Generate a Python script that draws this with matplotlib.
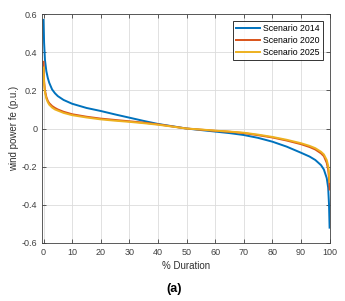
import matplotlib
matplotlib.use("Agg")
from matplotlib import pyplot as plt

# % duration sample points
duration = [0, 0.2, 0.5, 1, 1.5, 2, 3, 4, 5, 7, 10, 15, 20, 25, 30, 35, 40, 45, 50,
            55, 60, 65, 70, 75, 80, 85, 90, 93, 95, 97, 98, 99, 99.5, 99.8, 100]

fe_2014 = [0.57, 0.45, 0.36, 0.30, 0.265, 0.24, 0.205, 0.185, 0.17, 0.15, 0.13, 0.108,
           0.092, 0.074, 0.057, 0.04, 0.024, 0.012, 0.0, -0.008, -0.016, -0.024, -0.034,
           -0.049, -0.069, -0.095, -0.127, -0.147, -0.165, -0.192, -0.215, -0.26, -0.31,
           -0.40, -0.52]
fe_2020 = [0.35, 0.25, 0.2, 0.165, 0.145, 0.133, 0.118, 0.108, 0.1, 0.088, 0.075, 0.062,
           0.052, 0.045, 0.038, 0.031, 0.022, 0.011, 0.0, -0.006, -0.012, -0.017, -0.024,
           -0.035, -0.047, -0.063, -0.082, -0.097, -0.11, -0.13, -0.145, -0.18, -0.215,
           -0.26, -0.32]
fe_2025 = [0.32, 0.235, 0.19, 0.157, 0.138, 0.125, 0.11, 0.1, 0.094, 0.082, 0.07, 0.058,
           0.048, 0.041, 0.035, 0.028, 0.02, 0.01, 0.0, -0.005, -0.011, -0.016, -0.022,
           -0.032, -0.044, -0.059, -0.077, -0.091, -0.103, -0.122, -0.136, -0.165, -0.195,
           -0.235, -0.28]

series = [("Scenario 2014", fe_2014, "#0072BD"),
          ("Scenario 2020", fe_2020, "#D95319"),
          ("Scenario 2025", fe_2025, "#EDB120")]

plt.rcParams["font.family"] = ["Liberation Sans", "DejaVu Sans"]

fig = plt.figure(figsize=(3.45, 3.01), dpi=100)
ax = fig.add_axes([0.122, 0.193, 0.835, 0.76])

for name, vals, col in series:
    ax.plot(duration, vals, color=col, lw=1.4, label=name)

ax.set_xlim(-0.5, 100.2)
ax.set_ylim(-0.6, 0.6)
ax.set_xticks(range(0, 101, 10))
ax.set_yticks([-0.6, -0.4, -0.2, 0, 0.2, 0.4, 0.6])
ax.set_yticklabels(["-0.6", "-0.4", "-0.2", "0", "0.2", "0.4", "0.6"])
ax.grid(True, color="#dcdcdc", lw=0.6)
ax.tick_params(direction="in", top=True, right=True, labelsize=6.5,
               colors="#404040", length=3, width=0.6)
for s in ax.spines.values():
    s.set_color("#404040")
    s.set_linewidth(0.6)

ax.set_xlabel("% Duration", fontsize=7, color="#303030", labelpad=3)
ax.set_ylabel("wind power fe (p.u.)", fontsize=7, color="#303030", labelpad=2)

leg = ax.legend(loc="upper right", fontsize=6.3, frameon=True, fancybox=False,
                handlelength=2.7, borderpad=0.35, labelspacing=0.35,
                handletextpad=0.4, borderaxespad=0.8)
leg.get_frame().set_edgecolor("black")
leg.get_frame().set_linewidth(0.7)

fig.text(0.505, 0.03, "(a)", ha="center", fontsize=9, fontweight="bold")

fig.savefig("out.png", dpi=100)
